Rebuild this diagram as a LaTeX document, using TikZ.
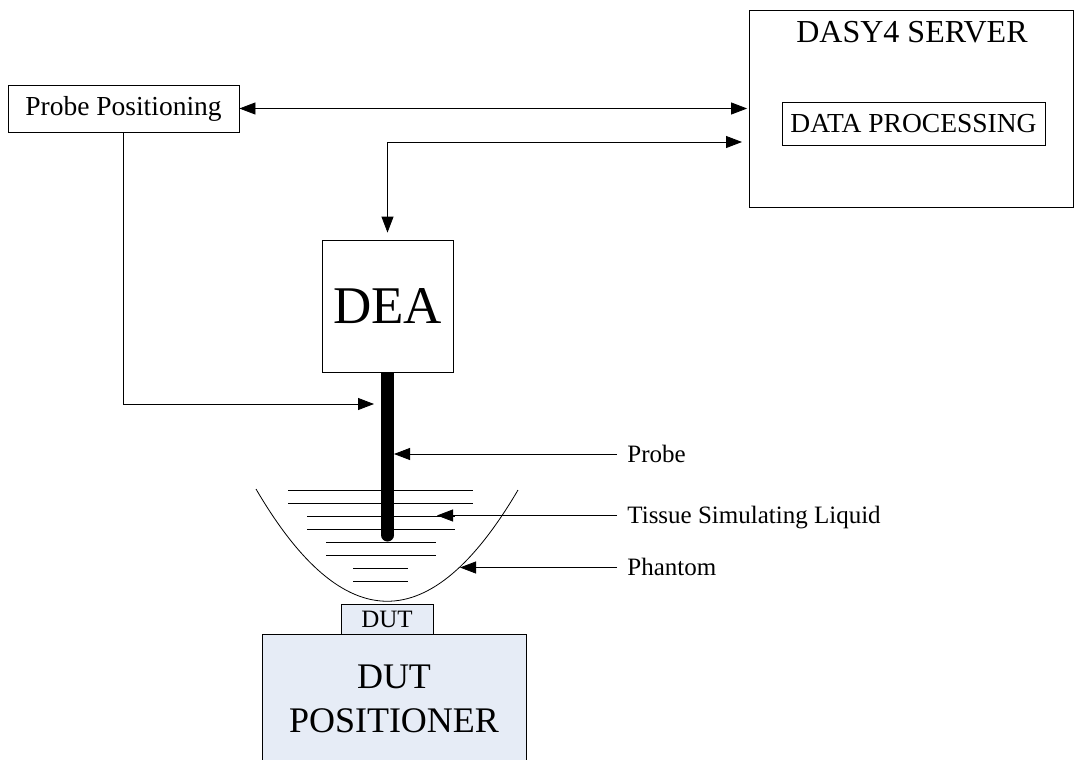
\documentclass[tikz,border=0pt]{standalone}
\usepackage{fontspec}
\setmainfont{Liberation Serif}
\usepackage{xcolor}
\usetikzlibrary{arrows.meta, positioning, calc}

\definecolor{dutblue}{RGB}{230,236,246}

\begin{document}
\begin{tikzpicture}[
  x=1pt, y=1pt,
  line width=0.8pt,
  box/.style={rectangle, draw, inner sep=0pt, align=center},
  lbl/.style={anchor=west, inner xsep=10pt, inner ysep=0pt,
    text height=16.5pt, text depth=0pt, font=\fontsize{25}{30}\selectfont},
  arr/.style={-{Triangle[length=16pt,width=12pt]}},
  biarr/.style={{Triangle[length=16pt,width=12pt]}-{Triangle[length=16pt,width=12pt]}},
]
  \useasboundingbox (0,0) rectangle (1074,-760);

  % Blocks
  \node[box, minimum width=231pt, minimum height=47pt, font=\fontsize{27.5}{33}\selectfont] (pp) at (123.5,-108.5) {Probe Positioning};
  \node[box, minimum width=324pt, minimum height=197pt] (server) at (911,-108.5) {};
  \node[inner sep=0pt, font=\fontsize{32}{38}\selectfont] (srvtitle) at (912,-32.5) {DASY4 SERVER};
  \node[box, minimum width=263pt, minimum height=43pt, font=\fontsize{27.5}{33}\selectfont] (dproc) at (913.5,-123.5) {DATA PROCESSING};
  \node[box, minimum width=131pt, minimum height=132pt, font=\fontsize{53}{60}\selectfont] (dea) at (387.5,-306) {DEA};
  \node[box, fill=dutblue, minimum width=264pt, minimum height=130pt, font=\fontsize{36}{44}\selectfont] (pos) at (394,-699) {DUT\\POSITIONER};
  \node[box, fill=dutblue, minimum width=92pt, minimum height=30pt, font=\fontsize{25}{30}\selectfont] (dut) at (387,-619) {DUT};

  % Phantom and liquid
  \draw (256,-489) .. controls (343.3,-638.3) and (430.7,-638.7) .. (518,-490);
  \foreach \y/\a/\b in {490/288/473, 503/288/473, 516/307/455, 529/307/455,
                        542/326/436, 555/326/436, 568/353/408, 581/353/408}
    \draw (\a,-\y) -- (\b,-\y);

  % Probe
  \coordinate (rodend) at (387.5,-535);
  \draw[line width=13pt] (dea.south) -- (rodend);
  \fill (rodend) circle (6.5pt);

  % Connections
  \coordinate (srvin) at (749,-142);
  \coordinate (rodin) at (374,-404);
  \draw[biarr, shorten >=1.5pt] (pp.east) -- (server.west);
  \draw[biarr, shorten <=7pt, shorten >=7pt] (dea.north) |- (srvin);
  \draw[arr] (pp.south) |- (rodin);

  % Right annotations
  \node[lbl] (lprobe) at (617,-454) {Probe};
  \node[lbl] (lliquid) at (617,-515.5) {Tissue Simulating Liquid};
  \node[lbl] (lphantom) at (617,-567.5) {Phantom};
  \coordinate (liqpt) at (437,-515.5);
  \coordinate (phpt) at (460,-567.5);
  \draw[arr] (lprobe.west) -- ($(lprobe.west -| rodend)+(6.5,0)$);
  \draw[arr] (lliquid.west) -- (liqpt);
  \draw[arr] (lphantom.west) -- (phpt);

\end{tikzpicture}
\end{document}
